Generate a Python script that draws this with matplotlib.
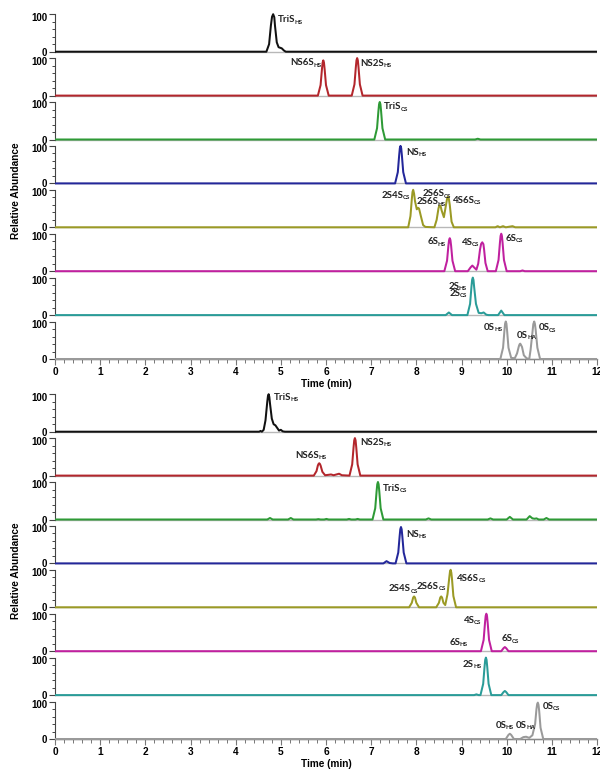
import matplotlib
matplotlib.use("Agg")
import matplotlib.pyplot as plt
from matplotlib.ticker import MultipleLocator, FixedLocator
from matplotlib.transforms import offset_copy, ScaledTranslation

# ---------------- data ----------------
colors = ['#111111', '#b3262c', '#2e9a36', '#23279a', '#9b9a25', '#c0209f', '#2a9c98', '#9a9a9a']
x_ticks = [0, 1, 2, 3, 4, 5, 6, 7, 8, 9, 10, 11, 12]
y_ticks = [0, 100]

# top panel traces: (time, relative abundance)
top_black = [(0, 0), (4.68, 0), (4.74, 20), (4.78, 70), (4.805, 93), (4.83, 100), (4.855, 92), (4.87, 70),
             (4.91, 25), (4.95, 12), (5.02, 9), (5.07, 3), (5.11, 0), (12, 0)]
top_red = [(0, 0), (5.82, 0), (5.88, 28), (5.91, 70), (5.925, 88), (5.94, 94), (5.955, 88), (5.97, 70),
           (6.00, 28), (6.06, 0), (6.57, 0), (6.63, 30), (6.66, 75), (6.675, 94), (6.69, 100), (6.705, 94),
           (6.72, 75), (6.75, 30), (6.81, 0), (12, 0)]
top_green = [(0, 0), (7.07, 0), (7.13, 30), (7.16, 75), (7.175, 94), (7.19, 100), (7.205, 94), (7.22, 75),
             (7.25, 30), (7.31, 0), (9.30, 0), (9.36, 2), (9.42, 0), (12, 0)]
top_blue = [(0, 0), (7.53, 0), (7.59, 30), (7.62, 75), (7.635, 94), (7.65, 100), (7.665, 94), (7.68, 75),
            (7.71, 30), (7.77, 0), (12, 0)]
top_olive = [(0, 0), (7.82, 0), (7.87, 30), (7.90, 75), (7.915, 94), (7.93, 100), (7.95, 90), (7.97, 70),
             (8.01, 48), (8.035, 52), (8.06, 50), (8.10, 30), (8.15, 6), (8.20, 1), (8.40, 0), (8.45, 20),
             (8.49, 50), (8.505, 57), (8.52, 59), (8.54, 55), (8.56, 45), (8.61, 27), (8.65, 55),
             (8.685, 79), (8.70, 82), (8.72, 76), (8.74, 60), (8.78, 15), (8.83, 0), (9.75, 0), (9.80, 3),
             (9.85, 0), (9.92, 3), (9.98, 0), (10.13, 3), (10.19, 0), (12, 0)]
top_magenta = [(0, 0), (8.62, 0), (8.68, 28), (8.71, 68), (8.725, 83), (8.74, 88), (8.755, 83), (8.77, 68),
               (8.80, 28), (8.86, 0), (9.14, 0), (9.20, 10), (9.24, 15), (9.28, 10), (9.33, 4), (9.37, 20),
               (9.41, 58), (9.435, 73), (9.46, 77), (9.485, 72), (9.50, 58), (9.53, 22), (9.58, 0),
               (9.76, 0), (9.82, 30), (9.85, 75), (9.865, 94), (9.88, 100), (9.895, 94), (9.91, 75),
               (9.94, 30), (10.0, 0), (10.30, 0), (10.35, 2), (10.40, 0), (12, 0)]
top_teal = [(0, 0), (8.65, 0), (8.72, 7), (8.79, 0), (9.13, 0), (9.19, 30), (9.22, 75), (9.235, 94),
            (9.25, 100), (9.265, 94), (9.28, 75), (9.32, 30), (9.38, 6), (9.44, 5), (9.49, 7), (9.55, 1),
            (9.60, 0), (9.81, 0), (9.88, 12), (9.95, 0), (12, 0)]
top_grey = [(0, 0), (9.86, 0), (9.92, 30), (9.95, 75), (9.965, 94), (9.98, 100), (9.995, 94), (10.01, 75),
            (10.04, 30), (10.10, 3), (10.18, 2), (10.23, 15), (10.27, 34), (10.285, 39), (10.30, 41),
            (10.315, 38), (10.34, 32), (10.38, 10), (10.44, 2), (10.50, 0), (10.53, 25), (10.57, 70),
            (10.59, 93), (10.61, 100), (10.625, 94), (10.64, 80), (10.68, 30), (10.74, 0), (12, 0)]

# bottom panel traces
bot_black = [(0, 0), (4.52, 0), (4.55, 2), (4.58, 0), (4.62, 5), (4.66, 30), (4.70, 80), (4.715, 95),
             (4.73, 100), (4.745, 93), (4.76, 75), (4.80, 35), (4.84, 20), (4.88, 17), (4.92, 10),
             (4.96, 3), (5.00, 5), (5.04, 1), (5.09, 0), (12, 0)]
bot_red = [(0, 0), (5.73, 0), (5.79, 12), (5.82, 27), (5.835, 31), (5.85, 33), (5.865, 31), (5.88, 27),
           (5.92, 10), (5.98, 1), (6.05, 2), (6.11, 3), (6.17, 1), (6.23, 3), (6.29, 5), (6.35, 1),
           (6.52, 0), (6.58, 30), (6.61, 75), (6.625, 94), (6.64, 100), (6.655, 94), (6.67, 75),
           (6.70, 30), (6.76, 0), (12, 0)]
bot_green = [(0, 0), (4.70, 0), (4.76, 4), (4.82, 0), (5.16, 0), (5.22, 4), (5.28, 0), (5.78, 0), (5.83, 1),
             (5.88, 0), (5.96, 0), (6.01, 1.5), (6.06, 0), (6.46, 0), (6.51, 1.5), (6.56, 0), (6.65, 0),
             (6.70, 1.5), (6.75, 0), (7.03, 0), (7.09, 30), (7.12, 75), (7.135, 94), (7.15, 100),
             (7.165, 94), (7.18, 75), (7.21, 30), (7.27, 0), (8.21, 0), (8.27, 3), (8.33, 0), (9.58, 0),
             (9.64, 3), (9.70, 0), (10.00, 0), (10.07, 7), (10.14, 0), (10.44, 0), (10.51, 9), (10.57, 3),
             (10.62, 2), (10.66, 3), (10.71, 0), (10.82, 0), (10.88, 4), (10.94, 0), (12, 0)]
bot_blue = [(0, 0), (7.27, 0), (7.34, 6), (7.41, 1), (7.48, 0), (7.54, 0), (7.60, 29), (7.63, 72),
            (7.645, 91), (7.66, 97), (7.675, 91), (7.69, 72), (7.72, 29), (7.78, 0), (12, 0)]
bot_olive = [(0, 0), (7.84, 0), (7.90, 12), (7.93, 26), (7.95, 29), (7.97, 26), (8.00, 12), (8.06, 0),
             (8.44, 0), (8.50, 12), (8.53, 26), (8.55, 29), (8.57, 26), (8.60, 12), (8.64, 6), (8.69, 35),
             (8.73, 80), (8.745, 95), (8.76, 100), (8.775, 92), (8.79, 75), (8.82, 30), (8.88, 0), (12, 0)]
bot_magenta = [(0, 0), (9.43, 0), (9.49, 30), (9.52, 75), (9.535, 94), (9.55, 100), (9.565, 94), (9.58, 75),
               (9.61, 30), (9.67, 0), (9.88, 0), (9.93, 8), (9.96, 11), (9.99, 8), (10.04, 0), (12, 0)]
bot_teal = [(0, 0), (9.28, 0), (9.33, 2), (9.38, 0), (9.42, 0), (9.48, 30), (9.51, 75), (9.525, 94),
            (9.54, 100), (9.555, 94), (9.57, 75), (9.60, 30), (9.66, 0), (9.88, 0), (9.93, 8), (9.96, 11),
            (9.99, 8), (10.04, 0), (12, 0)]
bot_grey = [(0, 0), (9.98, 0), (10.04, 11), (10.07, 14), (10.10, 11), (10.16, 0), (10.30, 0), (10.37, 5),
            (10.43, 6), (10.50, 3), (10.57, 10), (10.63, 40), (10.66, 80), (10.675, 93), (10.69, 97),
            (10.705, 91), (10.72, 75), (10.75, 30), (10.81, 0), (12, 0)]

top_traces = [top_black, top_red, top_green, top_blue, top_olive, top_magenta, top_teal, top_grey]
bot_traces = [bot_black, bot_red, bot_green, bot_blue, bot_olive, bot_magenta, bot_teal, bot_grey]

# peak labels: (row, time, intensity, main, subscript, alignment)
top_labels = [
    (0, 4.93, 85, 'TriS', 'HS', 'left'),
    (1, 5.91, 87, 'NS6S', 'HS', 'right'),
    (1, 6.76, 86, 'NS2S', 'HS', 'left'),
    (2, 7.29, 87, 'TriS', 'CS', 'left'),
    (3, 7.78, 83, 'NS', 'HS', 'left'),
    (4, 7.86, 85, '2S4S', 'CS', 'right'),
    (4, 8.13, 89, '2S6S', 'CS', 'left'),
    (4, 8.00, 68, '2S6S', 'HS', 'left'),
    (4, 8.80, 72, '4S6S', 'CS', 'left'),
    (5, 8.65, 78, '6S', 'HS', 'right'),
    (5, 9.40, 76, '4S', 'CS', 'right'),
    (5, 9.98, 87, '6S', 'CS', 'left'),
    (6, 9.12, 77, '2S', 'HS', 'right'),
    (6, 9.12, 57, '2S', 'CS', 'right'),
    (7, 9.90, 84, '0S', 'HS', 'right'),
    (7, 10.22, 62, '0S', 'HA', 'left'),
    (7, 10.71, 83, '0S', 'CS', 'left'),
]
bot_labels = [
    (0, 4.85, 92, 'TriS', 'HS', 'left'),
    (1, 6.01, 53, 'NS6S', 'HS', 'right'),
    (1, 6.75, 89, 'NS2S', 'HS', 'left'),
    (2, 7.25, 82, 'TriS', 'CS', 'left'),
    (3, 7.78, 77, 'NS', 'HS', 'left'),
    (4, 8.03, 49, '2S4S', 'CS', 'right'),
    (4, 8.65, 55, '2S6S', 'CS', 'right'),
    (4, 8.90, 76, '4S6S', 'CS', 'left'),
    (5, 9.44, 82, '4S', 'CS', 'right'),
    (5, 9.14, 24, '6S', 'HS', 'right'),
    (5, 9.88, 33, '6S', 'CS', 'left'),
    (6, 9.44, 82, '2S', 'HS', 'right'),
    (7, 9.75, 36, '0S', 'HS', 'left'),
    (7, 10.21, 36, '0S', 'HA', 'left'),
    (7, 10.80, 87, '0S', 'CS', 'left'),
]

# ---------------- layout ----------------
W, H = 600, 773
fig = plt.figure(figsize=(W / 100, H / 100), dpi=100)
renderer = fig.canvas.get_renderer()

PX_PER_UNIT = 0.375
ROW_H = 43.9
X0, X1 = 55, 597
top_base = 51.7
bot_base = 431.7
ylo = -4 / PX_PER_UNIT
yhi = (ROW_H - 4) / PX_PER_UNIT

TICK_FD = dict(fontfamily='Liberation Sans', fontweight='bold', fontsize=7.0)
LABEL_FONT = 'Lato'
MAIN_SIZE = 7.0
SUB_SIZE = 4.4


def put_label(ax, x, y, main, sub, ha):
    t1 = ax.text(x, y, main, fontsize=MAIN_SIZE, fontweight='bold', family=LABEL_FONT,
                 ha='left', va='center', clip_on=False, zorder=5, color='#222222')
    w1 = t1.get_window_extent(renderer).width - 0.6
    t2 = ax.text(x, y, sub, fontsize=SUB_SIZE, fontweight='bold', family=LABEL_FONT,
                 ha='left', va='center', clip_on=False, zorder=5, color='#222222',
                 transform=offset_copy(ax.transData, fig=fig, x=w1, y=-2.2, units='dots'))
    w2 = t2.get_window_extent(renderer).width
    if ha == 'right':
        shift = -(w1 + w2)
        t1.set_transform(offset_copy(ax.transData, fig=fig, x=shift, y=0, units='dots'))
        t2.set_transform(offset_copy(ax.transData, fig=fig, x=shift + w1, y=-2.2, units='dots'))


def draw_panel(base0, traces, labels):
    axes = []
    for i, (trace, col) in enumerate(zip(traces, colors)):
        base = base0 + ROW_H * i
        bottom_px = base + 4
        ax = fig.add_axes([X0 / W, 1 - bottom_px / H, (X1 - X0) / W, ROW_H / H])
        ax.patch.set_alpha(0)
        xs = [p[0] for p in trace]
        ys = [p[1] for p in trace]
        ax.axhline(0, color='#b8b8b8', lw=1.0, zorder=1)
        ax.plot(xs, ys, color=col, lw=1.45, zorder=3, solid_joinstyle='round')
        ax.set_xlim(0, 12)
        ax.set_ylim(ylo, yhi)
        for s in ['top', 'right']:
            ax.spines[s].set_visible(False)
        ax.spines['left'].set_bounds(0, 100)
        ax.spines['left'].set_color('#444444')
        ax.spines['left'].set_linewidth(0.8)
        ax.yaxis.set_major_locator(FixedLocator(y_ticks))
        ax.yaxis.set_minor_locator(MultipleLocator(20))
        ax.tick_params(axis='y', which='major', length=4, width=0.8, color='#444444', pad=1.5)
        ax.tick_params(axis='y', which='minor', length=2.5, width=0.7, color='#444444')
        ylabs = ax.set_yticklabels([str(v) for v in y_ticks], fontdict=TICK_FD)
        ylabs[1].set_transform(ylabs[1].get_transform() + ScaledTranslation(0, -2.5 / 100, fig.dpi_scale_trans))
        if i == len(traces) - 1:
            ax.spines['bottom'].set_position(('data', 0))
            ax.spines['bottom'].set_color('#8a8a8a')
            ax.spines['bottom'].set_linewidth(1.0)
            ax.xaxis.set_major_locator(FixedLocator(x_ticks))
            ax.xaxis.set_minor_locator(MultipleLocator(0.2))
            ax.tick_params(axis='x', which='major', length=4, width=0.8, color='#777777', pad=2)
            ax.tick_params(axis='x', which='minor', length=3, width=0.7, color='#777777')
            ax.set_xticklabels([str(v) for v in x_ticks], fontdict=dict(TICK_FD, fontsize=7.3))
        else:
            ax.spines['bottom'].set_visible(False)
            ax.tick_params(axis='x', which='both', bottom=False, labelbottom=False)
        axes.append(ax)
    for (row, x, y, main, sub, ha) in labels:
        put_label(axes[row], x, y, main, sub, ha)
    last_base = base0 + ROW_H * 7
    fig.text((X0 + X1) / 2 / W, 1 - (last_base + 25) / H, 'Time (min)', ha='center', va='center',
             family='Liberation Sans', weight='bold', fontsize=7.2)
    fig.text(16 / W, 1 - ((base0 - 37.5 + last_base) / 2 + 4) / H, 'Relative Abundance', rotation=90,
             ha='center', va='center', family='Liberation Sans', weight='bold', fontsize=7.3)
    return axes


draw_panel(top_base, top_traces, top_labels)
draw_panel(bot_base, bot_traces, bot_labels)

fig.savefig('out.png', dpi=100)
